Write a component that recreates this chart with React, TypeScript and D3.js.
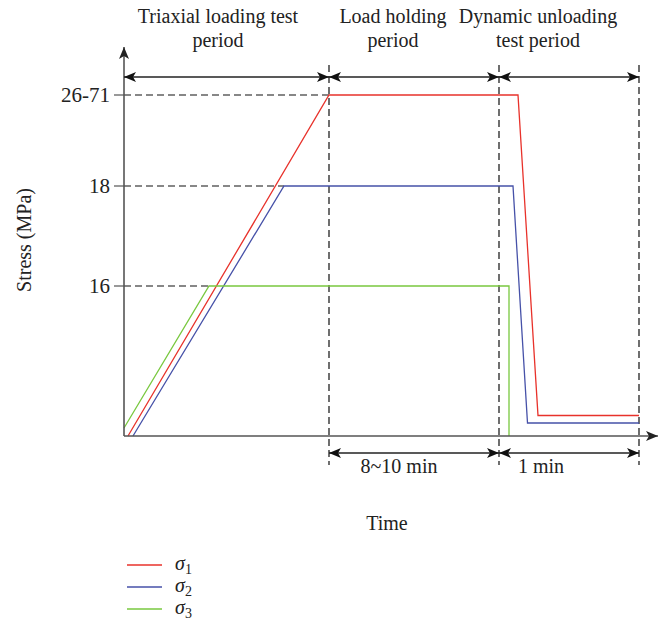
import React from "react";
import * as d3 from "d3";

// schematic time units and stress units
const phaseBounds = [0, 41, 75, 103];
const sigma1: [number, number][] = [[0.8, 0], [41, 68.2], [78.8, 68.2], [82.8, 4.1], [103, 4.1]];
const sigma2: [number, number][] = [[1.8, 0], [32, 50], [77.8, 50], [80.7, 2.6], [103, 2.6]];
const sigma3: [number, number][] = [[0, 1.6], [17, 30], [77, 30], [77, 0]];
const tickValues = [68.2, 50, 30];
const tickLabels = ["26-71", "18", "16"];
const guideEnds = [41, 32, 17];
const topLabels = [
  { lines: ["Triaxial loading test", "period"], cx: 218 },
  { lines: ["Load holding", "period"], cx: 393 },
  { lines: ["Dynamic unloading", "test period"], cx: 538 },
];
const bottomLabels = [
  { text: "8~10 min", cx: 399 },
  { text: "1 min", cx: 541 },
];
const seriesNames = ["1", "2", "3"];
const colors = ["#e8322b", "#4651a8", "#79c83f"];

const W = 660, H = 620;
const x = d3.scaleLinear().domain([0, 106.8]).range([124, 658]);
const y = d3.scaleLinear().domain([0, 77.8]).range([436, 47]);
const FONT = "'Liberation Serif', 'Times New Roman', serif";
const AX = "#555";

export default function App() {
  const line = d3.line<[number, number]>().x(d => x(d[0])).y(d => y(d[1]));
  const series = [sigma1, sigma2, sigma3];
  const topY = 77, botY = 453;
  return (
    <svg width={W} height={H} style={{ position: "absolute", left: 0, top: 0, background: "#fff" }}
      fontFamily={FONT}>
      <defs>
        <marker id="ah" viewBox="0 0 12 10" refX="12" refY="5" markerWidth="12" markerHeight="10"
          markerUnits="userSpaceOnUse" orient="auto-start-reverse">
          <path d="M0,0 L12,5 L0,10 L3,5 Z" fill="#111" />
        </marker>
        <marker id="axh" viewBox="0 0 12 10" refX="12" refY="5" markerWidth="12" markerHeight="10"
          markerUnits="userSpaceOnUse" orient="auto">
          <path d="M0,0 L12,5 L0,10 L3,5 Z" fill="#222" />
        </marker>
      </defs>
      {/* guides */}
      {tickValues.map((v, i) => (
        <line key={"g" + i} x1={x(0)} x2={x(guideEnds[i])} y1={y(v)} y2={y(v)}
          stroke="#111" strokeWidth={1.2} strokeDasharray="7,4" />
      ))}
      {phaseBounds.slice(1).map((b, i) => (
        <line key={"v" + i} x1={x(b)} x2={x(b)} y1={65} y2={465}
          stroke="#222" strokeWidth={1.3} strokeDasharray="7,4" />
      ))}
      {/* data */}
      {series.map((s, i) => (
        <path key={"s" + i} d={line(s) || ""} fill="none" stroke={colors[i]} strokeWidth={1.3} />
      ))}
      {/* axes */}
      <line x1={x(0)} x2={x(0)} y1={y(0)} y2={y(77.8)} stroke={AX} strokeWidth={1.6} markerEnd="url(#axh)" />
      <line x1={x(0)} x2={x(106.8)} y1={y(0)} y2={y(0)} stroke={AX} strokeWidth={1.6} markerEnd="url(#axh)" />
      {tickValues.map((v, i) => (
        <g key={"t" + i}>
          <line x1={x(0) - 10} x2={x(0)} y1={y(v)} y2={y(v)} stroke={AX} strokeWidth={1.2} />
          <text x={x(0) - 14} y={y(v)} dy="0.35em" textAnchor="end" fontSize={21} fill="#222">{tickLabels[i]}</text>
        </g>
      ))}
      {/* top arrows */}
      {phaseBounds.slice(1).map((b, i) => (
        <line key={"ta" + i} x1={x(phaseBounds[i])} x2={x(b)} y1={topY} y2={topY} stroke="#222" strokeWidth={1.3}
          markerStart="url(#ah)" markerEnd="url(#ah)" />
      ))}
      {/* bottom arrows */}
      {phaseBounds.slice(2).map((b, i) => (
        <line key={"ba" + i} x1={x(phaseBounds[i + 1])} x2={x(b)} y1={botY} y2={botY} stroke="#222" strokeWidth={1.3}
          markerStart="url(#ah)" markerEnd="url(#ah)" />
      ))}
      {topLabels.map((l, i) => (
        <text key={"tl" + i} textAnchor="middle" fontSize={20} fill="#222">
          {l.lines.map((t, j) => (
            <tspan key={j} x={l.cx} y={23 + j * 24}>{t}</tspan>
          ))}
        </text>
      ))}
      {bottomLabels.map((l, i) => (
        <text key={"bl" + i} x={l.cx} y={473} textAnchor="middle" fontSize={20} fill="#222">{l.text}</text>
      ))}
      <text x={387} y={530} textAnchor="middle" fontSize={20} fill="#222">Time</text>
      <text transform="translate(31,240) rotate(-90)" textAnchor="middle" fontSize={20} fill="#222">Stress (MPa)</text>
      {/* legend */}
      {seriesNames.map((n, i) => (
        <g key={"lg" + i}>
          <line x1={127} x2={162} y1={565 + i * 22} y2={565 + i * 22} stroke={colors[i]} strokeWidth={1.3} />
          <text x={175} y={564 + i * 22} dy="0.3em" fontSize={20} fill="#222">
            <tspan fontStyle="italic">σ</tspan>
            <tspan fontSize={14} dy="4">{n}</tspan>
          </text>
        </g>
      ))}
    </svg>
  );
}
